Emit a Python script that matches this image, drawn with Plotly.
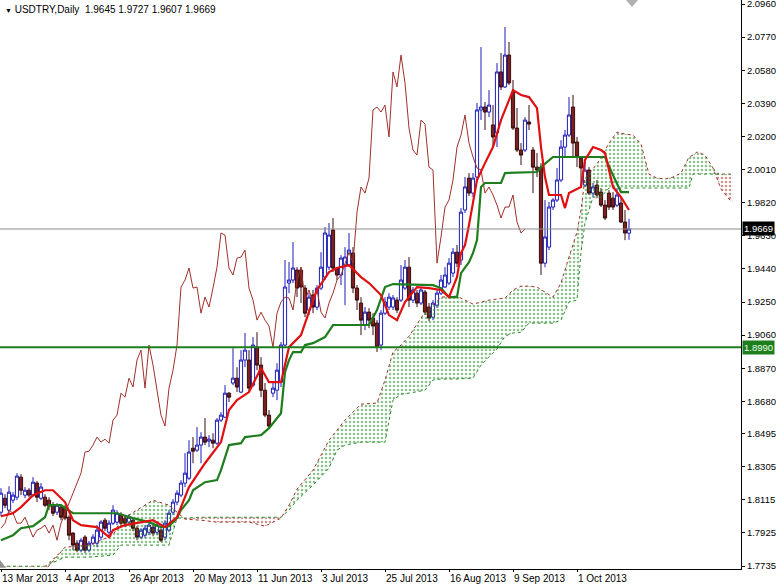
import plotly.graph_objects as go

symbol_title = "USDTRY,Daily\u00a0 1.9645 1.9727 1.9607 1.9669"

date_labels = ["13 Mar 2013", "4 Apr 2013", "26 Apr 2013", "20 May 2013", "11 Jun 2013",
               "3 Jul 2013", "25 Jul 2013", "16 Aug 2013", "9 Sep 2013", "1 Oct 2013"]
date_bars = [0, 16, 32, 48, 64, 80, 96, 112, 128, 144]

price_ticks = [2.0960, 2.0770, 2.0580, 2.0390, 2.0200, 2.0010, 1.9820, 1.9630, 1.9440,
               1.9250, 1.9060, 1.8870, 1.8680, 1.8495, 1.8305, 1.8115, 1.7925, 1.7735]

last_price = 1.9669
support_level = 1.8990
chikou_shift = 26

open_ = [
    1.8044, 1.8124, 1.8056, 1.8113, 1.8130, 1.8245, 1.8142, 1.8170, 1.8142, 1.8211,
    1.8124, 1.8130, 1.8113, 1.8084, 1.8044, 1.8073, 1.8067, 1.8015, 1.7924, 1.7866,
    1.7826, 1.7901, 1.7826, 1.7866, 1.7866, 1.7901, 1.7998, 1.7929, 1.7981, 1.7987,
    1.8027, 1.8010, 1.7987, 1.7998, 1.7952, 1.7901, 1.7912, 1.7929, 1.7958, 1.7929,
    1.7941, 1.7901, 1.7941, 1.8044, 1.8102, 1.8142, 1.8211, 1.8239, 1.8411, 1.8400,
    1.8429, 1.8475, 1.8452, 1.8457, 1.8440, 1.8572, 1.8589, 1.8727, 1.8785, 1.8813,
    1.8733, 1.8917, 1.8917, 1.8773, 1.8991, 1.8888, 1.8744, 1.8601, 1.8727, 1.8744,
    1.8790, 1.9003, 1.9359, 1.9376, 1.9433, 1.9433, 1.9330, 1.9204, 1.9290, 1.9221,
    1.9330, 1.9393, 1.9450, 1.9663, 1.9445, 1.9405, 1.9462, 1.9462, 1.9531, 1.9330,
    1.9244, 1.9118, 1.9192, 1.9158, 1.9129, 1.9003, 1.9186, 1.9221, 1.9221, 1.9261,
    1.9261, 1.9330, 1.9450, 1.9261, 1.9301, 1.9244, 1.9307, 1.9221, 1.9163, 1.9232,
    1.9301, 1.9336, 1.9359, 1.9416, 1.9536, 1.9491, 1.9778, 1.9961, 1.9875, 1.9967,
    2.0352, 2.0369, 2.0340, 2.0266, 2.0220, 2.0570, 2.0484, 2.0667, 2.0455, 2.0248,
    2.0122, 2.0122, 2.0283, 2.0122, 2.0024, 2.0024, 1.9473, 1.9565, 1.9795, 1.9835,
    1.9950, 2.0139, 2.0208, 2.0369, 2.0168, 2.0076, 1.9921, 2.0007, 1.9875, 1.9921,
    1.9881, 1.9806, 1.9875, 1.9846, 1.9806, 1.9818, 1.9709, 1.9645]

high_ = [
    1.8182, 1.8147, 1.8193, 1.8159, 1.8268, 1.8262, 1.8188, 1.8182, 1.8245, 1.8222,
    1.8211, 1.8147, 1.8130, 1.8102, 1.8096, 1.8084, 1.8084, 1.8027, 1.7929, 1.7883,
    1.7895, 1.7912, 1.7878, 1.7918, 1.7970, 1.7998, 1.8010, 1.7998, 1.8084, 1.8056,
    1.8044, 1.8027, 1.8033, 1.8015, 1.7964, 1.7952, 1.7970, 1.7987, 1.7975, 1.7987,
    1.7952, 1.7998, 1.8056, 1.8119, 1.8170, 1.8228, 1.8383, 1.8457, 1.8475, 1.8532,
    1.8503, 1.8584, 1.8486, 1.8497, 1.8584, 1.8618, 1.8773, 1.8733, 1.8985, 1.8876,
    1.8974, 1.9072, 1.8974, 1.9049, 1.9077, 1.8934, 1.8785, 1.8630, 1.8790, 1.8899,
    1.9020, 1.9491, 1.9479, 1.9594, 1.9450, 1.9450, 1.9347, 1.9301, 1.9319, 1.9347,
    1.9536, 1.9680, 1.9703, 1.9732, 1.9450, 1.9519, 1.9565, 1.9646, 1.9565, 1.9347,
    1.9278, 1.9221, 1.9215, 1.9186, 1.9146, 1.9204, 1.9278, 1.9301, 1.9290, 1.9278,
    1.9462, 1.9491, 1.9508, 1.9336, 1.9319, 1.9330, 1.9319, 1.9244, 1.9261, 1.9319,
    1.9405, 1.9450, 1.9502, 1.9560, 1.9577, 1.9789, 1.9967, 1.9990, 1.9990, 2.0392,
    2.0713, 2.0398, 2.0466, 2.0380, 2.0621, 2.0679, 2.0828, 2.0742, 2.0524, 2.0363,
    2.0162, 2.0311, 2.0380, 2.0139, 2.0105, 2.0047, 1.9835, 1.9824, 1.9846, 2.0019,
    2.0179, 2.0237, 2.0426, 2.0438, 2.0197, 2.0082, 2.0065, 2.0024, 1.9933, 1.9950,
    1.9904, 1.9835, 1.9892, 1.9881, 1.9904, 1.9846, 1.9778, 1.9727]

low_ = [
    1.8021, 1.8067, 1.8033, 1.8096, 1.8113, 1.8142, 1.8124, 1.8130, 1.8130, 1.8102,
    1.8113, 1.8073, 1.8056, 1.8021, 1.8027, 1.7998, 1.7998, 1.7883, 1.7826, 1.7814,
    1.7814, 1.7809, 1.7814, 1.7855, 1.7843, 1.7883, 1.7935, 1.7912, 1.7970, 1.7970,
    1.7964, 1.7958, 1.7970, 1.7935, 1.7883, 1.7889, 1.7895, 1.7912, 1.7906, 1.7912,
    1.7872, 1.7883, 1.7929, 1.8027, 1.8084, 1.8130, 1.8188, 1.8228, 1.8325, 1.8389,
    1.8325, 1.8429, 1.8417, 1.8411, 1.8429, 1.8561, 1.8584, 1.8676, 1.8773, 1.8733,
    1.8727, 1.8876, 1.8733, 1.8762, 1.8859, 1.8704, 1.8589, 1.8526, 1.8704, 1.8687,
    1.8762, 1.8991, 1.9301, 1.9359, 1.9278, 1.9244, 1.9163, 1.9175, 1.9186, 1.9204,
    1.9319, 1.9376, 1.9433, 1.9422, 1.9376, 1.9347, 1.9232, 1.9450, 1.9301, 1.9204,
    1.9060, 1.9089, 1.9100, 1.9060, 1.8963, 1.8974, 1.9175, 1.9204, 1.9204, 1.9186,
    1.9250, 1.9319, 1.9221, 1.9244, 1.9221, 1.9232, 1.9175, 1.9140, 1.9146, 1.9215,
    1.9290, 1.9330, 1.9347, 1.9393, 1.9450, 1.9462, 1.9760, 1.9858, 1.9852, 1.9950,
    2.0294, 2.0237, 2.0311, 2.0139, 2.0139, 2.0466, 2.0478, 2.0495, 2.0237, 2.0111,
    2.0036, 2.0111, 2.0237, 1.9875, 1.9967, 1.9405, 1.9450, 1.9548, 1.9778, 1.9824,
    1.9938, 2.0076, 2.0197, 2.0082, 2.0024, 1.9910, 1.9910, 1.9864, 1.9852, 1.9846,
    1.9795, 1.9720, 1.9778, 1.9778, 1.9795, 1.9703, 1.9605, 1.9607]

close_ = [
    1.8153, 1.8084, 1.8159, 1.8142, 1.8251, 1.8170, 1.8170, 1.8142, 1.8216, 1.8130,
    1.8188, 1.8084, 1.8079, 1.8038, 1.8084, 1.8015, 1.8010, 1.7912, 1.7855, 1.7826,
    1.7883, 1.7826, 1.7866, 1.7901, 1.7941, 1.7987, 1.7952, 1.7981, 1.8056, 1.8038,
    1.7981, 1.7981, 1.8015, 1.7952, 1.7901, 1.7941, 1.7952, 1.7970, 1.7924, 1.7970,
    1.7883, 1.7981, 1.8038, 1.8102, 1.8153, 1.8211, 1.8268, 1.8389, 1.8394, 1.8429,
    1.8475, 1.8446, 1.8463, 1.8440, 1.8572, 1.8601, 1.8727, 1.8704, 1.8813, 1.8762,
    1.8917, 1.8974, 1.8756, 1.9003, 1.8888, 1.8744, 1.8601, 1.8538, 1.8756, 1.8859,
    1.9003, 1.9336, 1.9376, 1.9445, 1.9330, 1.9336, 1.9186, 1.9278, 1.9221, 1.9330,
    1.9450, 1.9646, 1.9634, 1.9445, 1.9405, 1.9502, 1.9508, 1.9548, 1.9330, 1.9261,
    1.9146, 1.9192, 1.9146, 1.9112, 1.8991, 1.9186, 1.9250, 1.9278, 1.9273, 1.9204,
    1.9376, 1.9450, 1.9261, 1.9319, 1.9244, 1.9319, 1.9192, 1.9158, 1.9244, 1.9301,
    1.9376, 1.9405, 1.9473, 1.9536, 1.9473, 1.9766, 1.9910, 1.9875, 1.9961, 2.0352,
    2.0369, 2.0340, 2.0380, 2.0197, 2.0570, 2.0484, 2.0667, 2.0507, 2.0248, 2.0122,
    2.0093, 2.0294, 2.0271, 2.0024, 2.0007, 1.9473, 1.9623, 1.9795, 1.9835, 1.9950,
    2.0139, 2.0208, 2.0323, 2.0162, 2.0082, 2.0019, 2.0007, 1.9875, 1.9910, 1.9864,
    1.9806, 1.9732, 1.9795, 1.9795, 1.9864, 1.9709, 1.9646, 1.9669]

# Tenkan-sen (red) vertices: bar index, price
tenkan_bar = [0, 3, 5, 8, 11, 13, 16, 18, 20, 24, 27, 28, 31, 35, 38, 41, 44, 45, 47, 51,
              53, 55, 57, 59, 62, 65, 67, 70, 72, 75, 78, 79, 82, 84, 87, 90, 92, 95, 97, 99,
              101, 104, 107, 110, 112, 114, 115, 116, 117, 119, 121, 123, 125, 128, 130, 132, 134, 135, 136, 137,
              140, 141, 142, 145, 146, 148, 150, 151, 153, 155, 157]
tenkan_val = [1.8021, 1.8038, 1.8073, 1.8142, 1.8170, 1.8170, 1.8102, 1.7998, 1.7970, 1.7958,
              1.7901, 1.7941, 1.7970, 1.7987, 1.7998, 1.7958, 1.8015, 1.8073, 1.8188, 1.8325,
              1.8383, 1.8446, 1.8630, 1.8687, 1.8733, 1.8871, 1.8790, 1.8790, 1.8991, 1.9060,
              1.9261, 1.9319, 1.9422, 1.9445, 1.9462, 1.9393, 1.9359, 1.9290, 1.9175, 1.9146,
              1.9250, 1.9336, 1.9330, 1.9319, 1.9278, 1.9393, 1.9531, 1.9577, 1.9692, 1.9950,
              2.0047, 2.0139, 2.0294, 2.0466, 2.0438, 2.0426, 2.0363, 2.0139, 1.9967, 1.9864,
              1.9864, 1.9789, 1.9875, 1.9910, 2.0065, 2.0139, 2.0122, 2.0105, 1.9910, 1.9852,
              1.9778]

# Kijun-sen (green) vertices
kijun_bar = [0, 3, 5, 8, 11, 12, 15, 17, 18, 29, 33, 37, 40, 42, 44, 45, 47, 48, 51, 54,
             55, 57, 60, 61, 65, 67, 70, 71, 72, 73, 75, 76, 78, 81, 83, 92, 94, 96, 98, 108,
             110, 112, 114, 115, 117, 118, 119, 120, 121, 125, 126, 134, 135, 138, 151, 153, 155, 157]
kijun_val = [1.7883, 1.7912, 1.7952, 1.7964, 1.8015, 1.8084, 1.8084, 1.8056, 1.8038, 1.8038,
             1.8010, 1.7987, 1.7958, 1.7964, 1.8010, 1.8056, 1.8113, 1.8170, 1.8216, 1.8228,
             1.8285, 1.8429, 1.8440, 1.8475, 1.8486, 1.8526, 1.8612, 1.8848, 1.8917, 1.8963,
             1.8963, 1.9003, 1.9014, 1.9049, 1.9118, 1.9118, 1.9204, 1.9336, 1.9353, 1.9347,
             1.9330, 1.9278, 1.9278, 1.9416, 1.9479, 1.9531, 1.9605, 1.9910, 1.9933, 1.9933,
             1.9990, 1.9996, 2.0024, 2.0082, 2.0082, 1.9978, 1.9881, 1.9881]

# Senkou span A / B (already shifted forward), vertices
cloud_bar = [0, 11, 16, 22, 28, 30, 34, 38, 42, 44, 46, 50, 54, 58, 62, 66, 70, 72, 74, 78,
             82, 84, 86, 90, 94, 96, 98, 100, 102, 106, 108, 110, 114, 118, 120, 122, 124, 126, 128, 130,
             132, 134, 138, 140, 142, 144, 145, 146, 148, 150, 152, 154, 156, 158, 160, 162, 164, 166, 168, 170,
             172, 173, 174, 176, 178, 180, 182, 183]
span_a = [1.7711, 1.7711, 1.7843, 1.7855, 1.7912, 1.7998, 1.8056, 1.8113, 1.8084, 1.8044,
          1.8004, 1.7998, 1.7987, 1.7987, 1.7987, 1.7964, 1.8010, 1.8084, 1.8176, 1.8285,
          1.8457, 1.8515, 1.8572, 1.8664, 1.8670, 1.8802, 1.8963, 1.9003, 1.9054, 1.9192,
          1.9232, 1.9278, 1.9284, 1.9238, 1.9250, 1.9261, 1.9267, 1.9273, 1.9319, 1.9341,
          1.9341, 1.9336, 1.9278, 1.9359, 1.9508, 1.9651, 1.9778, 1.9961, 2.0013, 2.0076,
          2.0162, 2.0225, 2.0214, 2.0208, 2.0157, 1.9984, 1.9961, 1.9956, 1.9967, 1.9990,
          2.0082, 2.0093, 2.0111, 2.0093, 2.0019, 1.9898, 1.9841, 1.9824]
span_b = [1.7734, 1.7734, 1.7786, 1.7786, 1.7797, 1.7855, 1.7855, 1.7855, 1.7855, 1.8010,
          1.8010, 1.8015, 1.8015, 1.8015, 1.8015, 1.8015, 1.8015, 1.8056, 1.8113, 1.8199,
          1.8297, 1.8400, 1.8429, 1.8446, 1.8446, 1.8446, 1.8687, 1.8721, 1.8727, 1.8744,
          1.8802, 1.8808, 1.8808, 1.8813, 1.8888, 1.8934, 1.8980, 1.9054, 1.9072, 1.9077,
          1.9129, 1.9129, 1.9129, 1.9146, 1.9250, 1.9261, 1.9536, 1.9703, 1.9852, 1.9852,
          1.9904, 1.9904, 1.9904, 1.9904, 1.9904, 1.9904, 1.9904, 1.9904, 1.9904, 1.9904,
          1.9904, 1.9984, 1.9984, 1.9984, 1.9984, 1.9984, 1.9984, 1.9984]

FONT = "Liberation Sans, Arial, sans-serif"
GREEN_CLOUD = "#1a861a"
RED_CLOUD = "#a03028"

bars = list(range(len(close_)))
upper = [max(a, b) for a, b in zip(span_a, span_b)]

fig = go.Figure()

# candles
fig.add_trace(go.Candlestick(
    x=bars, open=open_, high=high_, low=low_, close=close_,
    increasing=dict(line=dict(color="#1c1cb8", width=1), fillcolor="#ffffff"),
    decreasing=dict(line=dict(color="#3a0c0c", width=1), fillcolor="#7a2020"),
    whiskerwidth=0, hoverinfo="skip", showlegend=False))

# kumo: green where span A above span B, red where B above A
fig.add_trace(go.Scatter(x=cloud_bar, y=span_b, mode="lines", line=dict(width=0),
                         hoverinfo="skip", showlegend=False))
fig.add_trace(go.Scatter(x=cloud_bar, y=upper, mode="lines", line=dict(width=0),
                         fill="tonexty", fillcolor="rgba(0,0,0,0)",
                         fillpattern=dict(shape=".", fgcolor=GREEN_CLOUD, bgcolor="rgba(0,0,0,0)",
                                          size=4, solidity=0.33),
                         hoverinfo="skip", showlegend=False))
fig.add_trace(go.Scatter(x=cloud_bar, y=span_a, mode="lines", line=dict(width=0),
                         hoverinfo="skip", showlegend=False))
fig.add_trace(go.Scatter(x=cloud_bar, y=upper, mode="lines", line=dict(width=0),
                         fill="tonexty", fillcolor="rgba(0,0,0,0)",
                         fillpattern=dict(shape=".", fgcolor=RED_CLOUD, bgcolor="rgba(0,0,0,0)",
                                          size=4, solidity=0.33),
                         hoverinfo="skip", showlegend=False))
fig.add_trace(go.Scatter(x=cloud_bar, y=span_b, mode="lines",
                         line=dict(color="#2a8a2a", width=1, dash="dot"),
                         hoverinfo="skip", showlegend=False))
fig.add_trace(go.Scatter(x=cloud_bar, y=span_a, mode="lines",
                         line=dict(color="#a03028", width=1, dash="dot"),
                         hoverinfo="skip", showlegend=False))

# chikou span: closes plotted 26 bars back
fig.add_trace(go.Scatter(x=[b - chikou_shift for b in bars[chikou_shift:]], y=close_[chikou_shift:],
                         mode="lines", line=dict(color="#a0302a", width=1),
                         hoverinfo="skip", showlegend=False))
# kijun and tenkan
fig.add_trace(go.Scatter(x=kijun_bar, y=kijun_val, mode="lines",
                         line=dict(color="#1e7e1e", width=2.2),
                         hoverinfo="skip", showlegend=False))
fig.add_trace(go.Scatter(x=tenkan_bar, y=tenkan_val, mode="lines",
                         line=dict(color="#e01010", width=2.2),
                         hoverinfo="skip", showlegend=False))

shapes = [
    dict(type="line", xref="paper", x0=0, x1=1, yref="y", y0=last_price, y1=last_price,
         line=dict(color="#8c8c8c", width=1)),
    dict(type="line", xref="paper", x0=0, x1=1, yref="y", y0=support_level, y1=support_level,
         line=dict(color="#1e7e1e", width=2)),
    dict(type="path", xref="paper", yref="paper",
         path="M 0.8448,1 L 0.8610,1 L 0.8529,0.9877 Z",
         fillcolor="#b0b0b0", line=dict(width=0)),
    dict(type="path", xref="paper", yref="paper",
         path="M 0,0.002 L 0,0.016 L 0.008,0.002 Z",
         fillcolor="#909090", line=dict(width=0)),
]

annotations = [
    dict(xref="paper", yref="paper", x=0, y=1, xanchor="left", yanchor="top",
         xshift=3, yshift=-2, showarrow=False,
         text="<span style='font-size:7px'>\u25BC</span> " + symbol_title,
         font=dict(family=FONT, size=10, color="black")),
    dict(xref="paper", yref="y", x=1, y=last_price, xanchor="left", yanchor="middle",
         xshift=1, showarrow=False, text=f"{last_price:.4f}", bgcolor="black",
         font=dict(family=FONT, size=9.5, color="white"), borderpad=1),
    dict(xref="paper", yref="y", x=1, y=support_level, xanchor="left", yanchor="middle",
         xshift=1, showarrow=False, text=f"{support_level:.4f}", bgcolor="#1e7e1e",
         font=dict(family=FONT, size=9.5, color="#e8ffe8"), borderpad=1),
]

fig.update_layout(
    width=776, height=586,
    margin=dict(l=0, r=35, t=0, b=17, autoexpand=False),
    paper_bgcolor="white", plot_bgcolor="white",
    showlegend=False, boxgap=0.2, boxgroupgap=0,
    shapes=shapes, annotations=annotations,
    xaxis=dict(range=[-0.25, 185.0], tickvals=date_bars, ticktext=date_labels,
               ticklabelposition="outside right", tickangle=0,
               ticks="outside", ticklen=2, tickcolor="black",
               showgrid=False, zeroline=False, showline=True, linecolor="black", linewidth=1,
               rangeslider=dict(visible=False), fixedrange=True, automargin=False,
               tickfont=dict(family=FONT, size=10, color="black")),
    yaxis=dict(side="right", range=[1.7718, 2.0983], tickvals=price_ticks,
               ticktext=[f"{v:.4f}" for v in price_ticks],
               ticks="outside", ticklen=3, tickcolor="black", ticklabeloverflow="allow",
               showgrid=False, zeroline=False, showline=True, linecolor="black", linewidth=1,
               fixedrange=True, automargin=False,
               tickfont=dict(family=FONT, size=9.5, color="black")),
)

fig.write_html("out.html", config={"displayModeBar": False},
               post_script="document.body.style.margin='0';document.body.style.padding='0';")
